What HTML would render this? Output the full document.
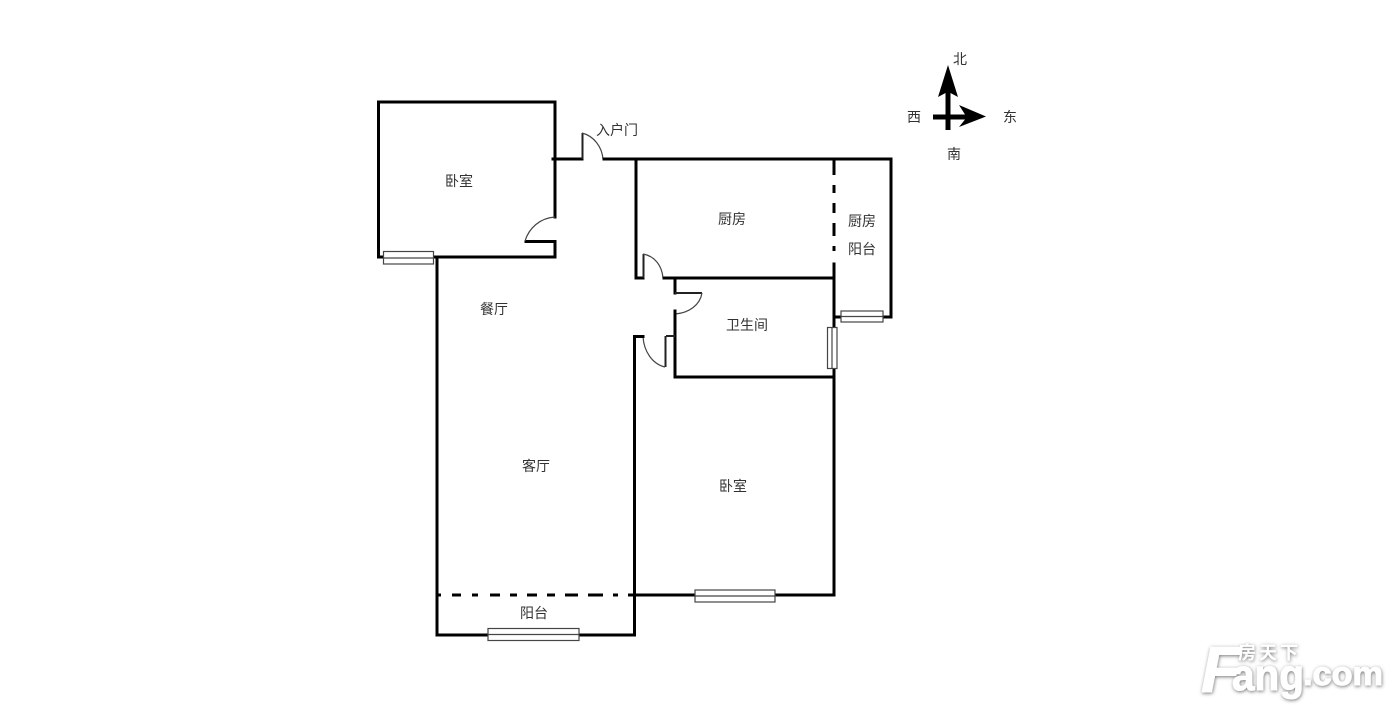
<!DOCTYPE html>
<html lang="zh">
<head>
<meta charset="utf-8">
<style>
html,body{margin:0;padding:0;background:#fff;width:1400px;height:713px;overflow:hidden}
svg{display:block}
text{font-family:"Liberation Sans","Noto Sans CJK SC",sans-serif;font-size:14px;fill:#333}
.w{fill:none;stroke:#000;stroke-width:3;stroke-linecap:square;stroke-linejoin:miter}
.t{fill:none;stroke:#222;stroke-width:2}
.a{fill:none;stroke:#444;stroke-width:1.2}
.win{fill:#fff;stroke:#444;stroke-width:1.2}
.mid{stroke:#444;stroke-width:1.2}
.d{fill:none;stroke:#000;stroke-width:3}
.wm{font-family:"Liberation Sans",sans-serif;font-weight:bold;fill:#fff;stroke:#fff;stroke-width:1}
</style>
</head>
<body>
<svg width="1400" height="713" viewBox="0 0 1400 713" xmlns="http://www.w3.org/2000/svg">
<defs>
<filter id="s" x="-10%" y="-20%" width="120%" height="140%"><feDropShadow dx="0.5" dy="1" stdDeviation="1.800" flood-color="#666" flood-opacity=".9"/></filter>
<filter id="b" x="-5%" y="-5%" width="110%" height="110%"><feGaussianBlur stdDeviation="0.250"/></filter>
</defs>
<g filter="url(#b)">
<!-- bedroom NW -->
<path class="w" d="M555 159V102H378.500V257H555V241.500H526"/>
<path class="w" d="M555 159V217"/>
<path class="a" d="M555 217C540 218 529 228 525 241"/>
<!-- entry -->
<path class="w" d="M553 159H582"/>
<path class="t" d="M582.500 159V133"/>
<path class="a" d="M582 133C594 136 602 147 603 159"/>
<path class="w" d="M604 159H891V317H884"/>
<path class="w" d="M636 159V278H643"/>
<path class="t" d="M643.500 278V254"/>
<path class="a" d="M643 254C655 256 662 266 663 278"/>
<path class="w" d="M664 278H834"/>
<!-- bathroom -->
<path class="w" d="M675 278V293"/>
<path class="t" d="M675 293H702"/>
<path class="a" d="M702 293C700 305 689 313 675 314"/>
<path class="w" d="M675 311V377H834"/>
<path class="t" d="M666 336H675M665.500 336V367"/>
<path class="a" d="M665 367C652 364 644 351 643 337"/>
<path class="w" d="M643 336.500H634.500V635"/>
<!-- east wall -->
<path class="w" d="M834 264V327"/>
<path class="w" d="M834 368V595H776"/>
<path class="w" d="M694 595H636"/>
<path class="w" d="M834 317H840"/>
<path class="d" d="M834 159V175M834 185V193M834 203V213M834 223V236M834 246V251"/>
<!-- living -->
<path class="w" d="M437 258V635H634"/>
<path class="d" d="M438 595H441M452 595H461M472 595H478M490 595H500M510 595H517M527 595H537M547 595H555M565 595H578M588 595H603M613 595H618M628 595H636"/>
<!-- windows -->
<rect class="win" x="383.500" y="251.500" width="50" height="12.500"/><path class="mid" d="M383.500 258H433.500"/>
<rect class="win" x="841" y="311" width="42" height="11"/><path class="mid" d="M841 316.500H883"/>
<rect class="win" x="827.500" y="327.500" width="9.500" height="41"/><path class="mid" d="M832 327.500V368.500"/>
<rect class="win" x="695" y="590" width="80" height="12"/><path class="mid" d="M695 596H775"/>
<rect class="win" x="488" y="628.500" width="91" height="12"/><path class="mid" d="M488 634.500H579"/>
<!-- labels -->
<text x="445" y="186">卧室</text>
<text x="596" y="135">入户门</text>
<text x="718" y="224">厨房</text>
<text x="848" y="226">厨房</text>
<text x="848" y="254">阳台</text>
<text x="726" y="330">卫生间</text>
<text x="480" y="314">餐厅</text>
<text x="522" y="471">客厅</text>
<text x="719" y="491">卧室</text>
<text x="520" y="618">阳台</text>
<!-- compass -->
<path d="M948 65L958 97L950.500 93V130H945.500V93L938 97Z" fill="#000"/>
<path d="M933 114.500H965L959 105L986 116.500L959 127L965 119.500H933Z" fill="#000"/>
<text x="953" y="64">北</text>
<text x="907" y="122">西</text>
<text x="1003" y="122">东</text>
<text x="947" y="159">南</text>
</g>
<!-- watermark -->
<g filter="url(#s)">
<text class="wm" x="1201" y="692" style="font-size:65px;font-style:italic">F</text>
<text class="wm" x="1232" y="690" textLength="72" lengthAdjust="spacingAndGlyphs" style="font-size:44px">ang</text>
<text class="wm" x="1303" y="685" textLength="80" lengthAdjust="spacingAndGlyphs" style="font-size:33px">.com</text>
<text x="1238" y="659" style="font-size:18px;font-weight:bold;fill:#fff;letter-spacing:3px">房天下</text>
</g>
</svg>
</body>
</html>
